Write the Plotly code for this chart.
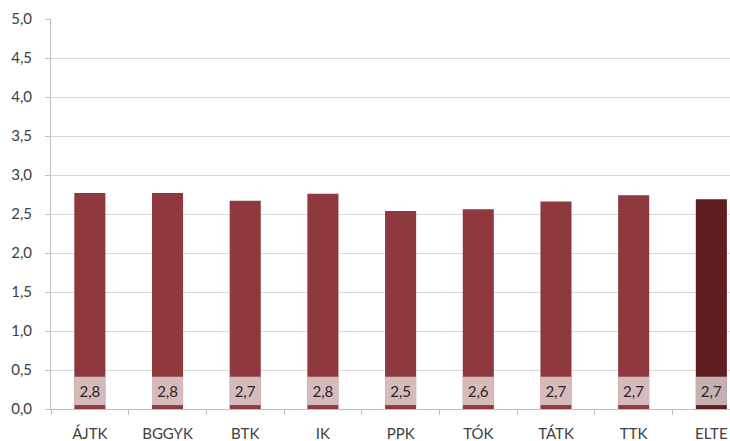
import plotly.graph_objects as go

categories = ["ÁJTK", "BGGYK", "BTK", "IK", "PPK", "TÓK", "TÁTK", "TTK", "ELTE"]
values = [2.77, 2.77, 2.67, 2.76, 2.54, 2.56, 2.66, 2.74, 2.69]
bar_colors = ["#8E393D"] * 8 + ["#5F1F20"]
labels = [f"{v:.1f}".replace(".", ",") for v in values]

band_base = 0.05
band_height = 0.364

fig = go.Figure()
fig.add_trace(go.Bar(
    x=categories, y=values, marker=dict(color=bar_colors, line=dict(width=0)),
    width=0.4, hoverinfo="skip", showlegend=False,
))
fig.add_trace(go.Bar(
    x=categories, y=[band_height] * len(categories), base=band_base,
    marker=dict(color="rgba(255,255,255,0.65)", line=dict(width=0)),
    width=0.4, text=labels, textposition="inside", insidetextanchor="middle",
    textangle=0, textfont=dict(color="#262626", size=15, family="Lato, sans-serif"),
    cliponaxis=False, hoverinfo="skip", showlegend=False,
))

fig.update_layout(
    width=730, height=441, barmode="overlay",
    margin=dict(l=51, r=0, t=19, b=32, autoexpand=False),
    paper_bgcolor="white", plot_bgcolor="white",
    separators=", ",
    font=dict(family="Lato, sans-serif", size=15, color="#404040"),
    uniformtext=dict(mode="show", minsize=12),
)
fig.update_xaxes(
    type="category", range=[-0.5, 8.24], tickson="boundaries",
    ticks="outside", ticklen=5, tickcolor="#BFBFBF", ticklabelstandoff=11,
    showline=True, linecolor="#BFBFBF", linewidth=1,
    showgrid=False, fixedrange=True, automargin=False,
)
fig.update_yaxes(
    range=[0, 5], dtick=0.5, tickformat=".1f",
    ticks="outside", ticklen=5, tickcolor="#BFBFBF", ticklabelstandoff=10,
    showline=True, linecolor="#BFBFBF", linewidth=1,
    showgrid=True, gridcolor="#D9D9D9", gridwidth=1,
    zeroline=False, fixedrange=True, automargin=False,
)

fig.write_html(
    "out.html",
    config={"displayModeBar": False},
    post_script="document.body.style.margin='0';document.body.style.overflow='hidden';",
)
